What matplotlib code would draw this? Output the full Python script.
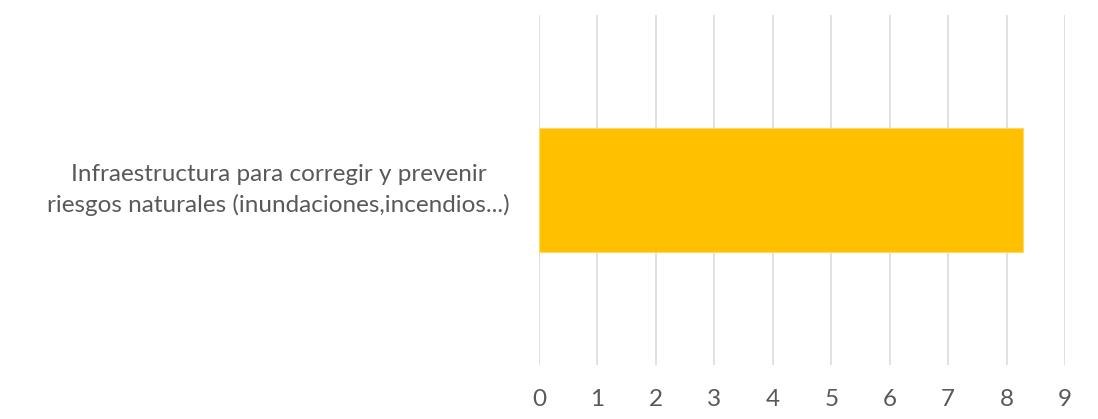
import matplotlib.pyplot as plt
import matplotlib.transforms as mtransforms

categorias = ["Infraestructura para corregir y prevenir\nriesgos naturales (inundaciones,incendios...)"]
valores = [8.28]
ticks_x = [0, 1, 2, 3, 4, 5, 6, 7, 8, 9]

plt.rcParams['font.family'] = ['Lato', 'DejaVu Sans']

fig = plt.figure(figsize=(10.98, 4.19), dpi=100)
ax = fig.add_axes([539/1098, 1 - 365/419, (1065 - 539)/1098, (365 - 15)/419])

ax.barh(range(len(categorias)), valores, height=0.352, color="#FFC000",
        edgecolor="#FFD966", linewidth=0.8, zorder=3)

ax.set_xlim(0, 9)
ax.set_ylim(-0.5, 0.5)
ax.set_xticks(ticks_x)
ax.set_yticks(range(len(categorias)))
ax.set_yticklabels(categorias, multialignment="center", linespacing=1.45)
ax.grid(axis="x", color="#D9D9D9", linewidth=1.1, zorder=0)
for s in ax.spines.values():
    s.set_visible(False)
ax.tick_params(axis="x", length=0, pad=17, labelsize=17.5, labelcolor="#595959")
ax.tick_params(axis="y", length=0, pad=21, labelsize=17.5, labelcolor="#595959")

# subir un poco la etiqueta
desplaza = mtransforms.ScaledTranslation(0, 6/100, fig.dpi_scale_trans)
for lab in ax.get_yticklabels():
    lab.set_transform(lab.get_transform() + desplaza)

plt.savefig("out.png", dpi=100)
